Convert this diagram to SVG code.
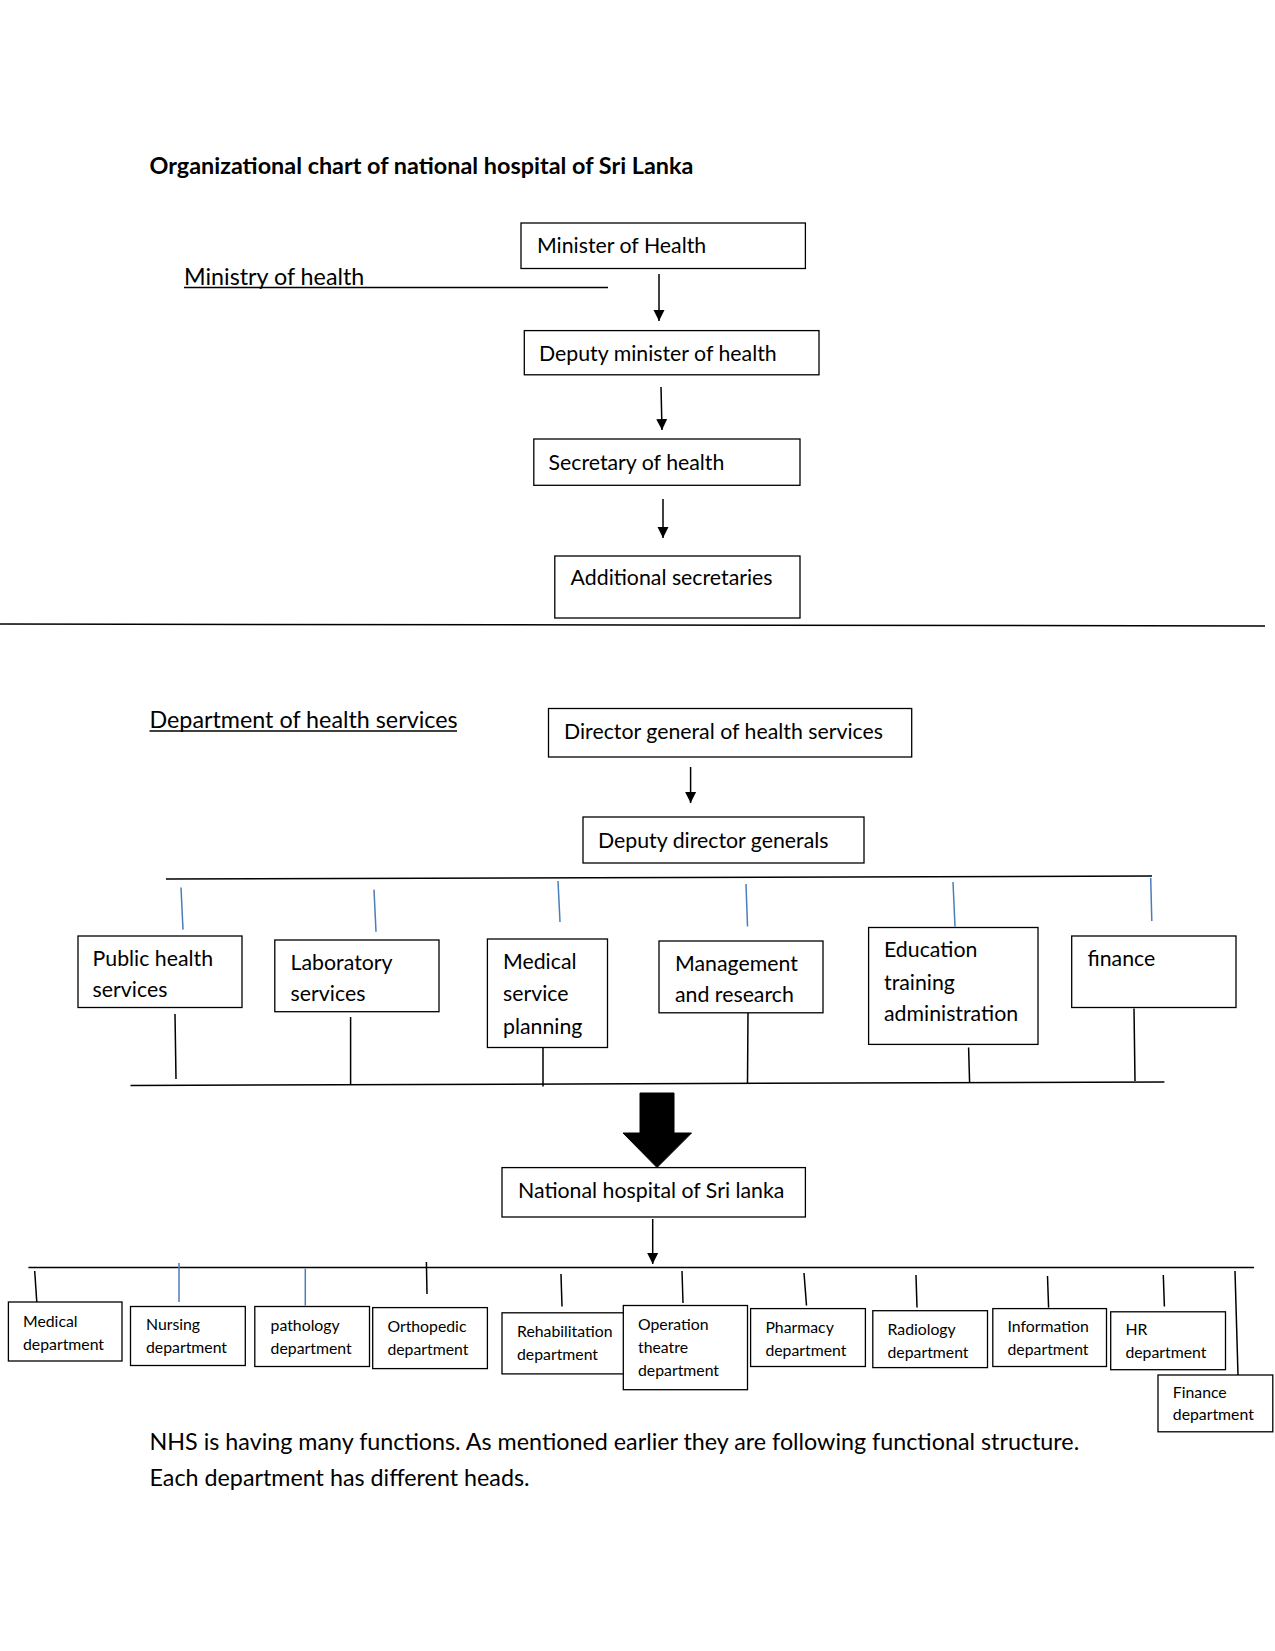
<svg xmlns="http://www.w3.org/2000/svg" width="1275" height="1651" viewBox="0 0 1275 1651">
<style>
text{font-family:Lato,"Noto Sans","Liberation Sans",sans-serif;fill:#000}
.t{font-size:21.3px}
.b{font-size:23.3px}
.s{font-size:15.8px}
.h{font-size:23.4px;font-weight:bold}
.box{fill:#fff;stroke:#000;stroke-width:1.3}
.k{stroke:#000;stroke-width:1.5;fill:none}
.bl{stroke:#4A7EBB;stroke-width:1.5;fill:none}
</style>
<defs>
<marker id="ah" viewBox="0 0 10 10" refX="10" refY="5" markerWidth="11" markerHeight="12" markerUnits="userSpaceOnUse" orient="auto">
<path d="M0,0 L10,5 L0,10 z" fill="#000"/>
</marker>
</defs>
<rect width="1275" height="1651" fill="#fff"/>

<g id="title"><text class="h" x="149.5" y="174">Organizational chart of national hospital of Sri Lanka</text></g>
<g id="ministry-label"><text class="b" x="184" y="285">Ministry of health</text></g>
<g id="dept-label"><text class="b" x="149.5" y="728">Department of health services</text></g>

<g id="connectors">
<line class="k" x1="184" y1="287.5" x2="608" y2="287.5"/>
<line class="k" x1="149.5" y1="731" x2="457" y2="731"/>
<line class="k" x1="659" y1="274" x2="659" y2="321" marker-end="url(#ah)"/>
<line class="k" x1="661" y1="387" x2="662" y2="430" marker-end="url(#ah)"/>
<line class="k" x1="663" y1="499" x2="663" y2="538" marker-end="url(#ah)"/>
<line class="k" x1="0" y1="624" x2="1265" y2="626"/>
<line class="k" x1="690.6" y1="767" x2="690.6" y2="803" marker-end="url(#ah)"/>
<line class="k" x1="166" y1="879" x2="1152" y2="876"/>
<line class="bl" x1="181" y1="887.5" x2="183" y2="929.6"/>
<line class="bl" x1="374" y1="889.6" x2="376" y2="931.7"/>
<line class="bl" x1="558" y1="881" x2="560" y2="922"/>
<line class="bl" x1="746" y1="884" x2="747.5" y2="926.5"/>
<line class="bl" x1="953" y1="882" x2="955" y2="926.5"/>
<line class="bl" x1="1150.7" y1="878" x2="1151.8" y2="921"/>
<line class="k" x1="175" y1="1014" x2="176" y2="1079"/>
<line class="k" x1="350.6" y1="1017" x2="350.6" y2="1084"/>
<line class="k" x1="543" y1="1047.5" x2="543" y2="1086.5"/>
<line class="k" x1="748" y1="1013" x2="747.5" y2="1084"/>
<line class="k" x1="968.6" y1="1047.5" x2="969.6" y2="1083"/>
<line class="k" x1="1134" y1="1008.6" x2="1135" y2="1081"/>
<line class="k" x1="130.5" y1="1085.4" x2="1164.4" y2="1082"/>
<path d="M640,1093 L674,1093 L674,1133 L691.5,1133 L657,1167.5 L623,1133 L640,1133 z" fill="#000" stroke="#000" stroke-width="1"/>
<line class="k" x1="652.7" y1="1219" x2="652.7" y2="1264" marker-end="url(#ah)"/>
<line class="k" x1="28.4" y1="1267.6" x2="1254" y2="1267.6"/>
<line class="k" x1="34.7" y1="1271" x2="36.8" y2="1302"/>
<line class="bl" x1="179" y1="1263" x2="179" y2="1302"/>
<line class="bl" x1="305.3" y1="1268.6" x2="305.3" y2="1305.5"/>
<line class="k" x1="426.4" y1="1262" x2="427" y2="1294"/>
<line class="k" x1="561" y1="1274" x2="562" y2="1306.5"/>
<line class="k" x1="682" y1="1271" x2="683" y2="1303"/>
<line class="k" x1="804" y1="1273" x2="806.5" y2="1305.5"/>
<line class="k" x1="916" y1="1275" x2="917" y2="1307.6"/>
<line class="k" x1="1047.5" y1="1276" x2="1048.6" y2="1307.6"/>
<line class="k" x1="1163.3" y1="1275" x2="1164.4" y2="1306.5"/>
<line class="k" x1="1235" y1="1271" x2="1238" y2="1375"/>
</g>

<g id="minister"><rect class="box" x="521" y="223" width="284.4" height="45.5"/><text class="t" x="537" y="252.7">Minister of Health</text></g>
<g id="deputy-minister"><rect class="box" x="524.3" y="330.6" width="294.7" height="44.2"/><text class="t" x="539" y="361">Deputy minister of health</text></g>
<g id="secretary"><rect class="box" x="533.8" y="439" width="266.2" height="46.3"/><text class="t" x="548.5" y="469.5">Secretary of health</text></g>
<g id="additional-secretaries"><rect class="box" x="554.8" y="556" width="245.2" height="62"/><text class="t" x="570.6" y="585">Additional secretaries</text></g>

<g id="director-general"><rect class="box" x="548.5" y="708.5" width="363.2" height="48.5"/><text class="t" x="564" y="739">Director general of health services</text></g>
<g id="deputy-dg"><rect class="box" x="583" y="817" width="281" height="46"/><text class="t" x="598" y="847.5">Deputy director generals</text></g>

<g id="public-health"><rect class="box" x="78" y="936" width="164" height="71.5"/><text class="t" x="92.6" y="965.5">Public health</text><text class="t" x="92.6" y="997">services</text></g>
<g id="laboratory"><rect class="box" x="274.8" y="940" width="164.2" height="71.7"/><text class="t" x="290.6" y="969.6">Laboratory</text><text class="t" x="290.6" y="1001">services</text></g>
<g id="medical-service-planning"><rect class="box" x="487.4" y="939" width="120.1" height="108.5"/><text class="t" x="503" y="968.6">Medical</text><text class="t" x="503" y="1001">service</text><text class="t" x="503" y="1034">planning</text></g>
<g id="management-research"><rect class="box" x="659" y="941" width="164" height="71.8"/><text class="t" x="675" y="970.7">Management</text><text class="t" x="675" y="1002.3">and research</text></g>
<g id="education"><rect class="box" x="868.6" y="927.5" width="169.4" height="116.9"/><text class="t" x="884" y="957">Education</text><text class="t" x="884" y="989.6">training</text><text class="t" x="884" y="1021">administration</text></g>
<g id="finance"><rect class="box" x="1071.7" y="936" width="164.3" height="71.5"/><text class="t" x="1087.5" y="965.5">finance</text></g>

<g id="national-hospital"><rect class="box" x="502" y="1167.6" width="303.4" height="49.4"/><text class="t" x="518" y="1198">National hospital of Sri lanka</text></g>

<g id="medical-dept"><rect class="box" x="8.4" y="1302" width="113.6" height="59"/><text class="s" x="23" y="1326.5">Medical</text><text class="s" x="23" y="1349.6">department</text></g>
<g id="nursing-dept"><rect class="box" x="130.5" y="1306.5" width="114.8" height="59"/><text class="s" x="146" y="1329.7">Nursing</text><text class="s" x="146" y="1352.8">department</text></g>
<g id="pathology-dept"><rect class="box" x="254.8" y="1306.5" width="114.7" height="60"/><text class="s" x="270.6" y="1330.7">pathology</text><text class="s" x="270.6" y="1354">department</text></g>
<g id="orthopedic-dept"><rect class="box" x="372.7" y="1307.6" width="114.7" height="61"/><text class="s" x="387.4" y="1331.8">Orthopedic</text><text class="s" x="387.4" y="1355">department</text></g>
<g id="rehabilitation-dept"><rect class="box" x="502" y="1312.8" width="123.4" height="61.1"/><text class="s" x="517" y="1337">Rehabilitation</text><text class="s" x="517" y="1360">department</text></g>
<g id="operation-theatre-dept"><rect class="box" x="623.3" y="1305.5" width="124.2" height="84.2"/><text class="s" x="638" y="1329.7">Operation</text><text class="s" x="638" y="1352.8">theatre</text><text class="s" x="638" y="1376">department</text></g>
<g id="pharmacy-dept"><rect class="box" x="750.6" y="1308.6" width="114.8" height="57.9"/><text class="s" x="765.4" y="1332.8">Pharmacy</text><text class="s" x="765.4" y="1356">department</text></g>
<g id="radiology-dept"><rect class="box" x="872.8" y="1310.7" width="114.7" height="56.9"/><text class="s" x="887.5" y="1335">Radiology</text><text class="s" x="887.5" y="1358">department</text></g>
<g id="information-dept"><rect class="box" x="992.8" y="1308.6" width="113.7" height="57.9"/><text class="s" x="1007.5" y="1331.8">Information</text><text class="s" x="1007.5" y="1355">department</text></g>
<g id="hr-dept"><rect class="box" x="1110.7" y="1311.8" width="114.8" height="57.9"/><text class="s" x="1125.4" y="1335">HR</text><text class="s" x="1125.4" y="1358">department</text></g>
<g id="finance-dept"><rect class="box" x="1158" y="1375" width="114.8" height="56.8"/><text class="s" x="1172.8" y="1398">Finance</text><text class="s" x="1172.8" y="1420">department</text></g>

<g id="footer"><text class="b" x="149.5" y="1449.7">NHS is having many functions. As mentioned earlier they are following functional structure.</text><text class="b" x="149.5" y="1485.5">Each department has different heads.</text></g>
</svg>
